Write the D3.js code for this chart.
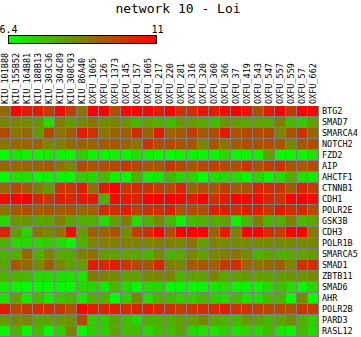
<!DOCTYPE html>
<html>
<head>
<meta charset="utf-8">
<script src="https://cdn.jsdelivr.net/npm/d3@7"></script>
<style>
  html, body { margin: 0; padding: 0; background: #fff; }
  svg { display: block; }
  text { font-family: "DejaVu Sans Mono", "Liberation Mono", monospace; fill: #000; }
</style>
</head>
<body>
<svg id="chart" width="361" height="337"></svg>
<script>
const title = "network 10 - Loi";
const legendMin = 6.4;
const legendMax = 11;
const legendLabels = ["6.4", "11"];

const columns = ["KIU_101B88","KIU_155B52","KIU_164B81","KIU_188B13","KIU_303C36","KIU_304C89","KIU_308C93","KIU_86A40",
  "OXFU_1065","OXFU_126","OXFU_1373","OXFU_145","OXFU_157","OXFU_1605","OXFU_217","OXFU_220","OXFU_281","OXFU_316",
  "OXFU_320","OXFU_360","OXFU_366","OXFU_37","OXFU_419","OXFU_543","OXFU_547","OXFU_557","OXFU_559","OXFU_57","OXFU_662"];

const rows = ["BTG2","SMAD7","SMARCA4","NOTCH2","FZD2","AIP","AHCTF1","CTNNB1","CDH1","POLR2E","GSK3B",
  "CDH3","POLR1B","SMARCA5","SMAD1","ZBTB11","SMAD6","AHR","POLR2B","PARD3","RASL12"];

const BTG2    = [9.1,11.0,10.5,10.5,9.9,10.8,9.9,8.9,11.0,11.0,9.6,10.9,11.0,10.9,10.5,11.0,10.1,10.2,10.6,10.5,10.8,11.0,10.6,9.5,10.5,11.0,10.0,11.0,11.0];
const SMAD7   = [8.6,8.6,8.5,8.3,7.0,8.7,8.2,8.5,8.9,8.5,8.6,8.3,7.7,8.1,7.8,7.6,8.2,8.2,8.0,7.6,8.3,8.2,8.0,8.1,8.0,8.7,7.6,7.4,8.1];
const SMARCA4 = [9.7,8.9,9.1,8.2,9.7,8.9,9.3,10.5,10.0,8.9,9.2,9.3,10.2,9.2,10.5,9.2,9.4,9.9,9.4,9.6,10.5,9.5,9.7,9.7,9.7,8.6,9.5,10.1,9.2];
const NOTCH2  = [8.9,9.1,9.2,9.2,8.6,8.7,9.1,9.2,9.2,9.4,9.4,9.2,8.9,10.1,9.6,9.7,9.5,9.5,8.6,9.5,8.9,9.4,9.6,9.5,9.6,9.5,8.6,9.4,9.7];
const FZD2    = [6.4,6.8,6.6,6.6,6.8,6.6,6.5,7.3,6.6,6.6,6.6,6.5,7.0,6.6,6.5,6.4,6.6,6.6,6.5,6.5,7.1,6.5,6.6,6.6,8.1,6.5,6.5,6.5,6.9];
const AIP     = [9.1,9.2,9.2,9.3,9.4,8.9,8.6,9.7,9.5,9.6,9.7,10.0,9.7,9.5,9.4,10.0,9.7,9.5,9.7,9.9,9.7,9.6,10.1,9.6,9.9,10.1,9.5,9.4,9.7];
const AHCTF1  = [6.4,6.9,6.9,6.5,6.6,6.5,6.5,7.3,7.1,7.6,6.6,6.5,7.8,6.6,6.8,7.6,7.1,7.2,6.4,7.0,7.1,7.0,6.5,7.2,6.5,7.0,7.8,7.0,6.8];
const CTNNB1  = [9.1,9.7,9.3,8.7,8.2,10.0,10.0,10.5,8.9,10.5,11.0,10.0,10.2,10.1,9.9,9.7,10.3,9.1,9.6,9.4,9.9,9.3,9.5,10.3,10.2,10.0,9.4,10.3,9.9];
const CDH1    = [10.8,11.0,11.0,10.3,10.0,10.5,10.3,10.6,10.5,7.8,10.8,10.6,10.3,11.0,11.0,11.0,10.8,10.5,11.0,10.1,10.5,11.0,10.8,10.8,10.3,10.1,11.0,11.0,10.8];
const POLR2E  = [8.9,9.4,9.6,9.4,9.5,9.4,9.5,9.1,9.3,10.2,10.2,10.5,9.9,10.1,10.2,10.5,9.5,9.7,9.6,10.4,10.5,10.2,10.5,10.5,10.0,10.6,10.2,10.3,9.7];
const GSK3B   = [7.1,8.3,8.3,8.0,8.1,8.7,8.0,7.8,7.8,7.0,8.1,8.7,7.0,7.8,8.5,7.6,6.6,7.6,7.8,7.9,8.1,6.6,7.7,8.7,7.7,7.8,8.7,7.6,8.0];
const CDH3    = [10.3,8.2,7.2,8.9,8.5,8.9,10.8,8.2,9.3,9.2,9.5,8.5,9.9,10.2,11.0,9.6,11.0,11.0,11.0,9.2,10.6,8.7,11.0,11.0,10.2,9.9,11.0,11.0,8.8];
const POLR1B  = [7.8,7.1,7.1,7.1,7.3,7.0,6.6,7.8,8.6,8.7,8.7,8.7,8.6,8.6,8.7,8.7,8.5,8.9,8.1,8.6,8.5,8.5,8.5,8.5,8.5,8.5,8.5,8.5,8.6];
const SMARCA5 = [7.8,7.8,9.1,7.8,8.6,8.0,8.0,8.7,8.9,8.2,8.1,8.1,8.0,7.7,8.5,7.8,8.0,8.5,8.1,8.5,8.7,8.9,8.5,7.8,8.1,7.8,8.0,8.1,8.2];
const SMAD1   = [8.0,9.4,9.1,8.5,9.3,8.6,8.1,8.2,10.5,10.3,10.5,10.1,9.7,9.5,10.3,8.7,8.6,9.4,9.4,9.3,10.0,10.2,9.2,8.9,9.1,9.3,8.6,10.1,10.2];
const ZBTB11  = [7.8,7.8,7.7,7.1,7.1,7.0,7.0,6.9,8.8,8.7,8.5,8.1,8.1,8.5,8.6,8.6,7.8,8.1,8.1,8.6,8.0,8.1,8.2,8.1,8.1,8.2,8.3,8.3,8.5];
const SMAD6   = [6.8,6.6,6.4,6.6,6.5,6.5,6.5,7.1,7.1,6.8,7.7,7.1,6.5,7.0,7.1,6.5,6.5,6.5,6.6,6.8,7.0,6.6,6.6,6.6,7.1,7.6,7.0,6.6,7.1];
const AHR     = [7.0,8.1,6.8,7.6,6.8,7.4,7.7,6.8,7.8,7.8,6.4,7.3,8.5,7.0,7.8,7.6,7.3,7.3,7.7,7.3,7.1,7.6,6.9,7.0,7.6,7.7,6.4,8.5,6.4];
const POLR2B  = [10.5,9.7,10.0,10.2,10.2,10.0,9.5,11.0,10.5,10.3,10.5,10.2,10.3,10.5,10.3,10.1,9.9,10.1,10.2,10.2,10.5,10.1,10.1,9.9,9.7,9.7,9.5,10.0,9.9];
const PARD3   = [8.2,8.5,8.6,8.0,8.1,8.2,8.3,9.7,7.3,7.3,8.0,7.6,7.1,7.8,7.8,7.8,8.1,8.1,8.5,8.0,7.8,7.7,8.2,8.1,7.7,8.0,8.5,7.8,7.3];
const RASL12  = [6.6,7.8,6.5,7.6,6.5,7.3,8.6,6.6,7.3,7.3,8.0,7.6,7.6,7.1,7.6,7.6,8.0,7.1,6.9,6.9,7.3,6.9,7.2,7.1,7.6,6.9,6.6,7.6,7.1];

const values = [BTG2, SMAD7, SMARCA4, NOTCH2, FZD2, AIP, AHCTF1, CTNNB1, CDH1, POLR2E, GSK3B,
  CDH3, POLR1B, SMARCA5, SMAD1, ZBTB11, SMAD6, AHR, POLR2B, PARD3, RASL12];

// ---- layout ----
const svg = d3.select("#chart");
const gridLeft = 0, gridTop = 106, step = 11;
const gridRight = gridLeft + columns.length * step - 1;
const gridBottom = gridTop + rows.length * step - 1;

const x = d3.scaleBand().domain(columns).range([gridLeft, gridRight]).paddingInner(1 / step).paddingOuter(0);
const y = d3.scaleBand().domain(rows).range([gridTop, gridBottom]).paddingInner(1 / step).paddingOuter(0);

const color = d3.scaleLinear().domain([legendMin, legendMax]).range(["#00ff00", "#ff0000"])
  .interpolate(d3.interpolateRgb).clamp(true);

// title
svg.append("text").attr("x", 178).attr("y", 13).attr("text-anchor", "middle")
  .style("font-size", "13px").text(title);

// legend gradient
const defs = svg.append("defs");
const grad = defs.append("linearGradient").attr("id", "lg").attr("x1", "0%").attr("x2", "100%");
d3.range(0, 1.0001, 0.1).forEach(t => {
  grad.append("stop").attr("offset", (t * 100) + "%")
    .attr("stop-color", color(legendMin + t * (legendMax - legendMin)));
});
const lx = d3.scaleLinear().domain([legendMin, legendMax]).range([8, 157]);
svg.append("rect").attr("x", lx(legendMin) + 0.5).attr("y", 35.5)
  .attr("width", lx(legendMax) - lx(legendMin) - 1).attr("height", 8)
  .attr("fill", "url(#lg)").attr("stroke", "#000").attr("stroke-width", 1);
svg.selectAll("text.leg").data([legendMin, legendMax]).enter().append("text")
  .attr("class", "leg").attr("x", d => lx(d) + 0.5).attr("y", 33)
  .attr("text-anchor", "middle").style("font-size", "10px")
  .text((d, i) => legendLabels[i]);

// grid background (gray lines)
svg.append("rect").attr("x", gridLeft).attr("y", gridTop)
  .attr("width", gridRight - gridLeft + 1).attr("height", gridBottom - gridTop + 1)
  .attr("fill", "#808080");

// cells
const cells = [];
values.forEach((row, j) => row.forEach((v, i) => cells.push({ r: rows[j], c: columns[i], v })));
svg.append("g").selectAll("rect").data(cells).enter().append("rect")
  .attr("x", d => x(d.c)).attr("y", d => y(d.r))
  .attr("width", x.bandwidth()).attr("height", y.bandwidth())
  .attr("fill", d => color(d.v));

// column labels
svg.append("g").selectAll("text").data(columns).enter().append("text")
  .attr("transform", d => `translate(${x(d) + 8.3},${gridTop - 2}) rotate(-90)`)
  .attr("text-anchor", "start").style("font-size", "8.5px").text(d => d);

// row labels
svg.append("g").selectAll("text").data(rows).enter().append("text")
  .attr("x", gridRight + 4).attr("y", d => y(d) + 8)
  .style("font-size", "8.5px").text(d => d);
</script>
</body>
</html>
